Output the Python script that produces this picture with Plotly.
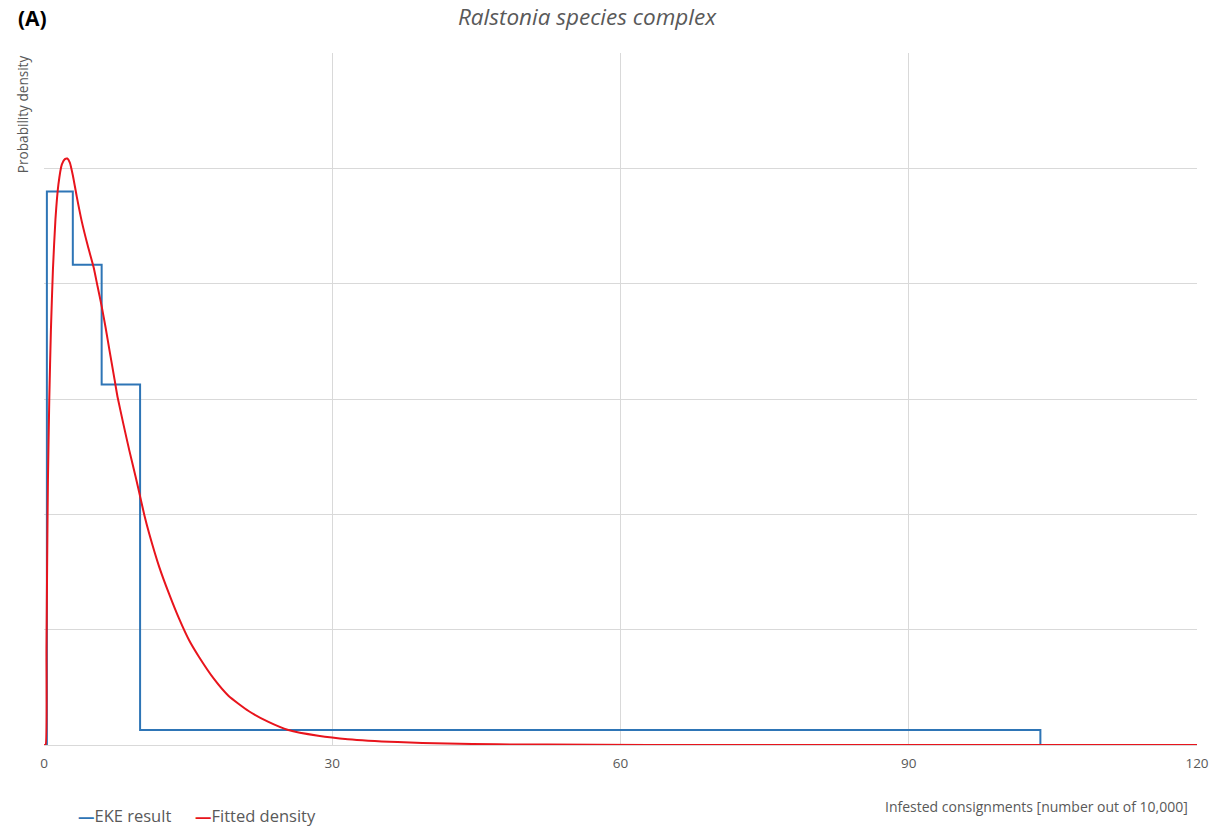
import plotly.graph_objects as go

# EKE result: bin edges and probability densities of the stepped histogram
eke_edges = [0.3, 3.0, 6.0, 10.0, 103.7]
eke_density = [0.0960, 0.0833, 0.0625, 0.0026]

# Fitted density curve, sampled points
fit_x = [0.0, 0.16, 0.26, 0.33, 0.41, 0.55, 0.72, 0.93, 1.19, 1.50, 1.86, 2.17,
         2.43, 2.69, 3.00, 3.41, 3.93, 4.55, 5.17, 5.58, 5.99, 6.41, 6.82, 7.34,
         7.65, 8.27, 8.89, 9.51, 10.03, 10.44, 10.96, 11.99, 13.02, 14.06, 15.09,
         16.12, 17.67, 19.22, 21.29, 23.36, 25.43, 28.53, 31.63, 36.80, 41.96,
         47.13, 57.47, 67.80, 120.0]
fit_y = [0.0, 0.0, 0.0165, 0.0321, 0.0460, 0.0599, 0.0720, 0.0825, 0.0911,
         0.0972, 0.1007, 0.1016, 0.1017, 0.1010, 0.0988, 0.0951, 0.0908, 0.0866,
         0.0828, 0.0795, 0.0762, 0.0724, 0.0684, 0.0634, 0.0604, 0.0556, 0.0510,
         0.0467, 0.0429, 0.0399, 0.0366, 0.0309, 0.0262, 0.0219, 0.0182, 0.0153,
         0.0115, 0.0085, 0.0059, 0.0040, 0.0026, 0.0016, 0.0010, 0.0005,
         0.00024, 0.00012, 0.00003, 0.0, 0.0]

x_ticks = [0, 30, 60, 90, 120]

BLUE = "#2E75B6"
RED = "#E8141C"
GRID = "#D9D9D9"
TXT = "#595959"
FONT = "Open Sans"

# Build the outline of the step histogram from the edges and densities
step_x, step_y = [eke_edges[0]], [0.0]
for i, d in enumerate(eke_density):
    step_x += [eke_edges[i], eke_edges[i + 1]]
    step_y += [d, d]
step_x.append(eke_edges[-1])
step_y.append(0.0)

fig = go.Figure()
fig.add_trace(go.Scatter(x=step_x, y=step_y, mode="lines", name="EKE result",
                         line=dict(color=BLUE, width=2), showlegend=False))
fig.add_trace(go.Scatter(x=fit_x, y=fit_y, mode="lines", name="Fitted density",
                         line=dict(color=RED, width=2, shape="spline", smoothing=0.5),
                         showlegend=False))

W, H = 1221, 829
pl, pr, pt, pb = 44, 16, 53, 84
pw, ph = W - pl - pr, H - pt - pb


def px(xp):
    return (xp - pl) / pw


def py(yp):
    return (H - pb - yp) / ph


def key(color, label):
    return f"<span style='color:{color}'><b>—</b></span>{label}"


fig.update_layout(
    width=W, height=H,
    margin=dict(l=pl, r=pr, t=pt, b=pb),
    paper_bgcolor="white", plot_bgcolor="white",
    font=dict(family=FONT, color=TXT, size=12),
    xaxis=dict(range=[0, 120], tickvals=x_ticks, showgrid=True, gridcolor=GRID,
               gridwidth=1, zeroline=False, showline=True, linecolor=GRID,
               ticks="", tickfont=dict(size=13.5, color=TXT),
               ticklabelstandoff=6, ticklabeloverflow="allow"),
    yaxis=dict(range=[0, 0.12], dtick=0.02, showgrid=True, gridcolor=GRID,
               gridwidth=1, zeroline=False, showline=False, showticklabels=False,
               ticks=""),
    annotations=[
        dict(text="<b>(A)</b>", x=px(16), y=py(18), xanchor="left", yanchor="middle",
             font=dict(size=21, color="black", family=FONT)),
        dict(text="<i>Ralstonia species complex</i>", x=px(591), y=py(17),
             xanchor="center", yanchor="middle",
             font=dict(size=22.5, color=TXT, family=FONT)),
        dict(text="Probability density", textangle=-90, x=px(22), y=py(53),
             xanchor="center", yanchor="top",
             font=dict(size=13.6, color=TXT, family=FONT)),
        dict(text="Infested consignments [number out of 10,000]", x=px(1198), y=py(806),
             xanchor="right", yanchor="middle",
             font=dict(size=14, color=TXT, family=FONT)),
        dict(text=key(BLUE, "EKE result"), x=px(76), y=py(815),
             xanchor="left", yanchor="middle",
             font=dict(size=16.5, color=TXT, family=FONT)),
        dict(text=key(RED, "Fitted density"), x=px(194), y=py(815),
             xanchor="left", yanchor="middle",
             font=dict(size=16.5, color=TXT, family=FONT)),
    ],
)
for a in fig.layout.annotations:
    a.update(xref="paper", yref="paper", showarrow=False)

fig.write_html("out.html")
